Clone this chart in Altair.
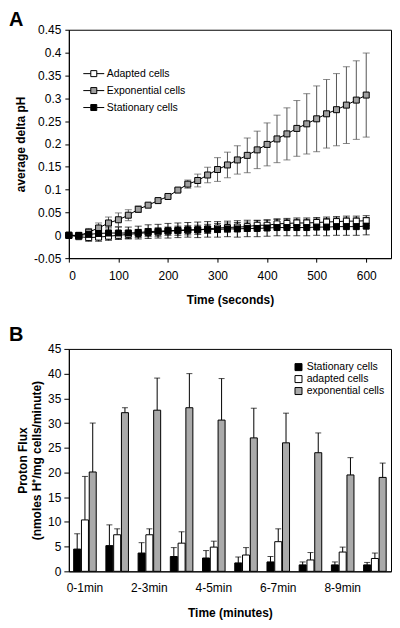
import altair as alt
import pandas as pd

FONT = "Liberation Sans"

# ---------------- Panel A data ----------------
time_s = list(range(0, 601, 20))
series_a = ["Adapted cells", "Exponential cells", "Stationary cells"]

adapted = [0, -0.003, -0.005, -0.004, -0.002, 0.0, 0.002, 0.004, 0.006, 0.007, 0.009,
           0.010, 0.011, 0.012, 0.014, 0.016, 0.017, 0.018, 0.019, 0.022, 0.022,
           0.025, 0.026, 0.027, 0.027, 0.028, 0.029, 0.030, 0.031, 0.031, 0.032]
adapted_err = [0, 0.004, 0.008, 0.009, 0.009, 0.009, 0.009, 0.009, 0.009, 0.009, 0.009,
               0.010, 0.010, 0.010, 0.010, 0.010, 0.010, 0.010, 0.010, 0.010, 0.011,
               0.011, 0.011, 0.011, 0.011, 0.011, 0.011, 0.011, 0.011, 0.011, 0.011]
exponential = [0, -0.001, 0.007, 0.016, 0.027, 0.034, 0.044, 0.057, 0.066, 0.076, 0.085,
               0.099, 0.112, 0.120, 0.132, 0.144, 0.154, 0.165, 0.175, 0.187, 0.199,
               0.211, 0.222, 0.234, 0.244, 0.255, 0.266, 0.275, 0.285, 0.296, 0.307]
exponential_err = [0, 0.002, 0.008, 0.011, 0.013, 0.015, 0.012, 0.007, 0.003, 0.003, 0.003,
                   0.003, 0.009, 0.014, 0.017, 0.026, 0.028, 0.031, 0.038, 0.041, 0.047,
                   0.052, 0.057, 0.061, 0.066, 0.072, 0.075, 0.079, 0.084, 0.086, 0.092]
stationary = [0, 0.0, 0.002, 0.004, 0.005, 0.005, 0.005, 0.006, 0.008, 0.009, 0.010,
              0.011, 0.012, 0.012, 0.013, 0.013, 0.014, 0.014, 0.015, 0.015, 0.016,
              0.017, 0.017, 0.017, 0.017, 0.018, 0.018, 0.019, 0.019, 0.019, 0.020]
stationary_err = [0, 0.005, 0.010, 0.012, 0.013, 0.013, 0.013, 0.014, 0.015, 0.015, 0.016,
                  0.016, 0.016, 0.017, 0.017, 0.017, 0.017, 0.018, 0.018, 0.018, 0.018,
                  0.018, 0.018, 0.018, 0.018, 0.018, 0.019, 0.019, 0.019, 0.019, 0.019]
y_ticks_a = [-0.05, 0, 0.05, 0.1, 0.15, 0.2, 0.25, 0.3, 0.35, 0.4, 0.45]
x_ticks_a = [0, 100, 200, 300, 400, 500, 600]

# ---------------- Panel B data ----------------
groups = ["0-1min", "1-2min", "2-3min", "3-4min", "4-5min",
          "5-6min", "6-7min", "7-8min", "8-9min", "9-10min"]
shown_labels = ["0-1min", "2-3min", "4-5min", "6-7min", "8-9min"]
series_b = ["Stationary cells", "adapted cells", "exponential cells"]
stationary_b = [4.5, 5.2, 3.7, 3.0, 2.7, 1.7, 1.9, 1.3, 1.3, 1.3]
stationary_b_err = [3.1, 4.2, 2.1, 1.8, 1.5, 1.2, 1.1, 0.6, 0.6, 0.5]
adapted_b = [10.4, 7.4, 7.4, 5.7, 4.9, 3.3, 6.0, 2.3, 3.9, 2.6]
adapted_b_err = [8.8, 1.2, 1.2, 2.3, 1.2, 1.5, 2.6, 1.5, 1.0, 1.1]
exponential_b = [20.1, 32.1, 32.6, 33.1, 30.6, 27.0, 26.0, 24.0, 19.5, 19.0]
exponential_b_err = [9.9, 1.0, 6.5, 6.9, 8.4, 6.0, 6.0, 4.0, 3.5, 2.9]
y_ticks_b = [0, 5, 10, 15, 20, 25, 30, 35, 40, 45]

# ---------------- tables ----------------
rows_a = []
for name, vals, errs in [("Adapted cells", adapted, adapted_err),
                         ("Exponential cells", exponential, exponential_err),
                         ("Stationary cells", stationary, stationary_err)]:
    for t, v, e in zip(time_s, vals, errs):
        rows_a.append({"t": t, "seriesA": name, "val": v, "lo": v - e, "hi": v + e})
df_a = pd.DataFrame(rows_a)

rows_b = []
for name, vals, errs in [("Stationary cells", stationary_b, stationary_b_err),
                         ("adapted cells", adapted_b, adapted_b_err),
                         ("exponential cells", exponential_b, exponential_b_err)]:
    for g, v, e in zip(groups, vals, errs):
        rows_b.append({"grp": g, "seriesB": name, "val": v, "hi": v + e})
df_b = pd.DataFrame(rows_b)

# ---------------- Panel A ----------------
xa = alt.X("t:Q", scale=alt.Scale(domain=[0, 650], nice=False, zero=False),
           axis=alt.Axis(values=x_ticks_a, title="Time (seconds)", tickSize=4,
                         labelPadding=8, titlePadding=13))
ya_axis = alt.Axis(values=y_ticks_a, title="average delta pH", tickSize=4,
                   labelPadding=4, titlePadding=6, labelExpr="'' + datum.value")
ya_scale = alt.Scale(domain=[-0.05, 0.45], nice=False, zero=False)

base_a = alt.Chart(df_a)
line_a = base_a.mark_line(color="black", strokeWidth=1).encode(
    x=xa, y=alt.Y("val:Q", scale=ya_scale, axis=ya_axis), detail="seriesA:N")


def err_layers(src, col):
    rule = src.mark_rule(strokeWidth=1, color=col).encode(
        x=xa, y=alt.Y("lo:Q", scale=ya_scale, axis=ya_axis), y2="hi:Q")
    top = src.mark_tick(orient="horizontal", size=7, thickness=1, color=col).encode(
        x=xa, y=alt.Y("hi:Q", scale=ya_scale, axis=ya_axis))
    bot = src.mark_tick(orient="horizontal", size=7, thickness=1, color=col).encode(
        x=xa, y=alt.Y("lo:Q", scale=ya_scale, axis=ya_axis))
    return [rule, top, bot]


exp_src = base_a.transform_filter(alt.datum.seriesA == "Exponential cells")
oth_src = base_a.transform_filter(alt.datum.seriesA != "Exponential cells")
err_a = err_layers(exp_src, "#555555") + err_layers(oth_src, "black")

pts_a = base_a.mark_square(size=36, stroke="black", strokeWidth=1, opacity=1).encode(
    x=xa, y=alt.Y("val:Q", scale=ya_scale, axis=ya_axis),
    fill=alt.Fill("seriesA:N",
                  scale=alt.Scale(domain=series_a, range=["white", "#a0a0a0", "black"]),
                  legend=alt.Legend(title=None, orient="none", legendX=17, legendY=36,
                                    symbolType="M-1.4,0H-0.4M0.4,0H1.4M-0.4,-0.4H0.4V0.4H-0.4Z",
                                    symbolSize=225, symbolStrokeColor="black",
                                    symbolStrokeWidth=1, labelFont=FONT, labelFontSize=10.5,
                                    labelColor="black", rowPadding=3, labelOffset=5)))

chart_a = alt.layer(line_a, *err_a, pts_a).properties(
    width=323, height=229,
    title=alt.TitleParams("A", anchor="start", frame="group", dx=-60, offset=-6,
                          fontSize=20, fontWeight="bold", font=FONT, color="black"))

# ---------------- Panel B ----------------
xb = alt.X("grp:N", sort=groups,
           scale=alt.Scale(paddingInner=0.3, paddingOuter=0.15),
           axis=alt.Axis(title="Time (minutes)", labelAngle=0, ticks=False,
                         labelPadding=11, titlePadding=14,
                         labelExpr="indexof(" + str(shown_labels) + ", datum.value) >= 0 ? datum.value : ''"))
xo = alt.XOffset("seriesB:N", sort=series_b, scale=alt.Scale(paddingInner=0.1))
yb_scale = alt.Scale(domain=[0, 45], nice=False)
yb_axis = alt.Axis(values=y_ticks_b, title=["Proton Flux", "(nmoles H\u207a/mg cells/minute)"],
                   tickSize=5, labelPadding=3, titlePadding=4)

base_b = alt.Chart(df_b)
bars = base_b.mark_bar(stroke="black", strokeWidth=1).encode(
    x=xb, xOffset=xo, y=alt.Y("val:Q", scale=yb_scale, axis=yb_axis),
    fill=alt.Fill("seriesB:N",
                  scale=alt.Scale(domain=series_b, range=["black", "white", "#aaaaaa"]),
                  legend=alt.Legend(title=None, orient="none", legendX=225, legendY=13,
                                    symbolType="square", symbolSize=49,
                                    symbolStrokeColor="black", symbolStrokeWidth=1,
                                    labelFont=FONT, labelFontSize=10.5, labelColor="black",
                                    rowPadding=0, labelOffset=3)))
rule_b = base_b.mark_rule(color="black", strokeWidth=1).encode(
    x=xb, xOffset=xo, y=alt.Y("val:Q", scale=yb_scale, axis=yb_axis), y2="hi:Q")
cap_b = base_b.mark_tick(orient="horizontal", size=6, thickness=1, color="black").encode(
    x=xb, xOffset=xo, y=alt.Y("hi:Q", scale=yb_scale, axis=yb_axis))

chart_b = alt.layer(rule_b, bars, cap_b).properties(
    width=323, height=223,
    title=alt.TitleParams("B", anchor="start", frame="group", dx=-60, offset=-2,
                          fontSize=20, fontWeight="bold", font=FONT, color="black"))

chart = alt.vconcat(chart_a, chart_b, spacing=18,
                    padding={"left": 0, "top": 0, "right": 0, "bottom": 0}).resolve_scale(
    fill="independent"
).configure(
    font=FONT
).configure_axis(
    grid=False, labelFont=FONT, titleFont=FONT, labelFontSize=12, titleFontSize=12,
    titleFontWeight="bold", labelColor="black", titleColor="black",
    domainColor="black", tickColor="black"
).configure_view(stroke="black", strokeWidth=1)

chart.save("out.html", embed_options={"renderer": "svg", "actions": False})
